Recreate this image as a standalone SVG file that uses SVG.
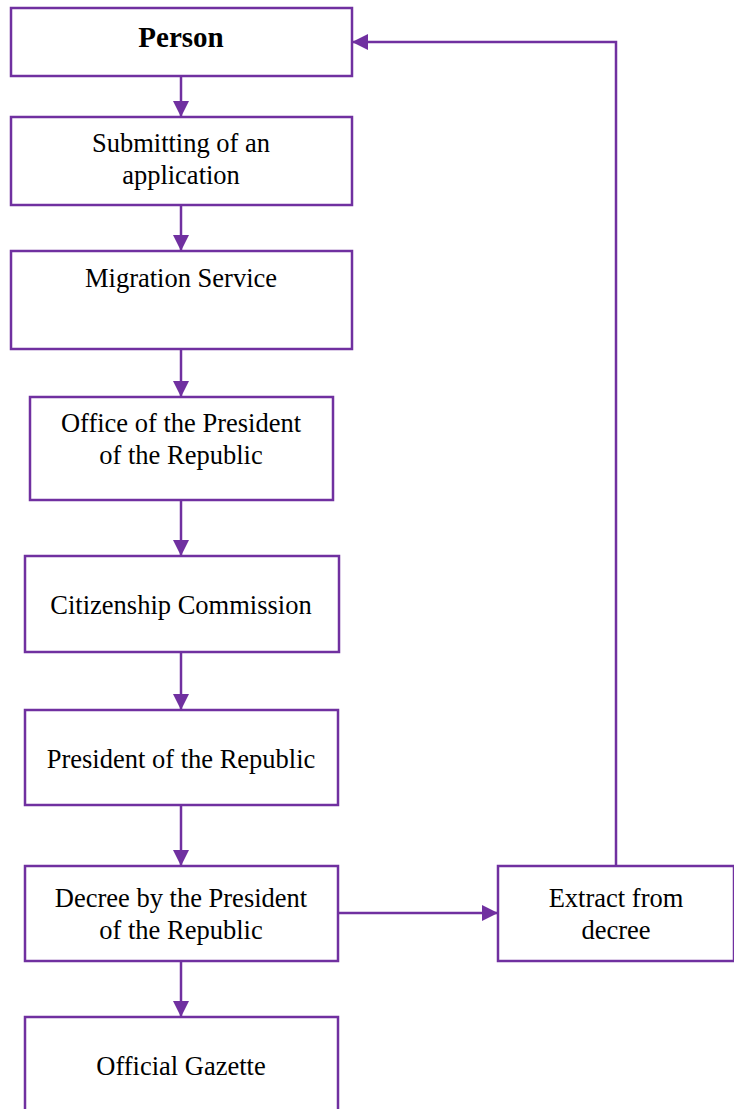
<svg xmlns="http://www.w3.org/2000/svg" width="734" height="1109" viewBox="0 0 734 1109">
<defs>
<style>
.box{fill:#fff;stroke:#7030A0;stroke-width:2.5}
.t{font-family:"Liberation Serif","Times New Roman",serif;font-size:26.5px;fill:#000;text-anchor:middle}
.b{font-weight:bold;font-size:29px}
.c{fill:none;stroke:#7030A0;stroke-width:2.5}
</style>
<marker id="ah" markerWidth="16" markerHeight="16" viewBox="0 0 16 16" refX="16" refY="8" orient="auto" markerUnits="userSpaceOnUse">
<path d="M0,0 L16,8 L0,16 Z" fill="#7030A0"/>
</marker>
</defs>
<g id="connectors">
<line class="c" x1="181" y1="76" x2="181" y2="117" marker-end="url(#ah)"/>
<line class="c" x1="181" y1="205" x2="181" y2="251" marker-end="url(#ah)"/>
<line class="c" x1="181" y1="349" x2="181" y2="397" marker-end="url(#ah)"/>
<line class="c" x1="181" y1="500" x2="181" y2="556" marker-end="url(#ah)"/>
<line class="c" x1="181" y1="652" x2="181" y2="710" marker-end="url(#ah)"/>
<line class="c" x1="181" y1="805" x2="181" y2="866" marker-end="url(#ah)"/>
<line class="c" x1="181" y1="961" x2="181" y2="1017" marker-end="url(#ah)"/>
<line class="c" x1="338" y1="913" x2="498" y2="913" marker-end="url(#ah)"/>
<polyline class="c" points="616,866 616,42 352,42" marker-end="url(#ah)"/>
</g>
<g id="person"><rect class="box" x="11" y="8" width="341" height="68"/><text class="t b" x="181" y="47">Person</text></g>
<g id="submitting"><rect class="box" x="11" y="117" width="341" height="88"/><text class="t" x="181" y="152">Submitting of an</text><text class="t" x="181" y="184">application</text></g>
<g id="migration"><rect class="box" x="11" y="251" width="341" height="98"/><text class="t" x="181" y="287">Migration Service</text></g>
<g id="office"><rect class="box" x="30" y="397" width="303" height="103"/><text class="t" x="181" y="432">Office of the President</text><text class="t" x="181" y="464">of the Republic</text></g>
<g id="commission"><rect class="box" x="25" y="556" width="314" height="96"/><text class="t" x="181" y="614">Citizenship Commission</text></g>
<g id="president"><rect class="box" x="25" y="710" width="313" height="95"/><text class="t" x="181" y="768">President of the Republic</text></g>
<g id="decree"><rect class="box" x="25" y="866" width="313" height="95"/><text class="t" x="181" y="907">Decree by the President</text><text class="t" x="181" y="939">of the Republic</text></g>
<g id="extract"><rect class="box" x="498" y="866" width="236" height="95"/><text class="t" x="616" y="907">Extract from</text><text class="t" x="616" y="939">decree</text></g>
<g id="gazette"><rect class="box" x="25" y="1017" width="313" height="100"/><text class="t" x="181" y="1075">Official Gazette</text></g>
</svg>
